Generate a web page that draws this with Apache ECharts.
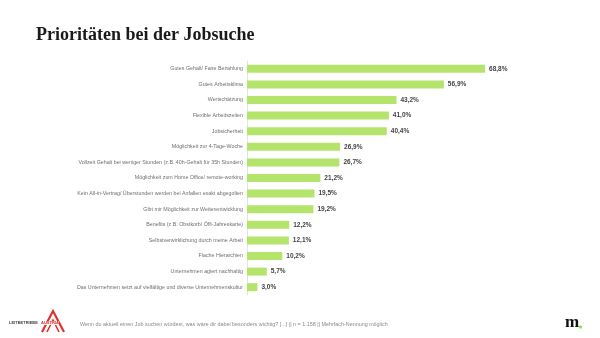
<!DOCTYPE html>
<html>
<head>
<meta charset="utf-8">
<script src="https://cdn.jsdelivr.net/npm/echarts@6/dist/echarts.min.js"></script>
<style>
  html, body { margin: 0; padding: 0; background: #fff; }
  #chart { width: 600px; height: 338px; }
</style>
</head>
<body>
<div id="chart"></div>
<script>
// Survey answers, top to bottom
const categories = [
  "Gutes Gehalt/ Faire Bezahlung",
  "Gutes Arbeitsklima",
  "Wertschätzung",
  "Flexible Arbeitszeiten",
  "Jobsicherheit",
  "Möglichkeit zur 4-Tage-Woche",
  "Vollzeit Gehalt bei weniger Stunden (z.B. 40h-Gehalt für 35h Stunden)",
  "Möglichkeit zum Home Office/ remote-working",
  "Kein All-in-Vertrag/ Überstunden werden bei Anfallen exakt abgegolten",
  "Gibt mir Möglichkeit zur Weiterentwicklung",
  "Benefits (z.B. Obstkorb/ Öffi-Jahreskarte)",
  "Selbstverwirklichung durch meine Arbeit",
  "Flache Hierarchien",
  "Unternehmen agiert nachhaltig",
  "Das Unternehmen setzt auf vielfältige und diverse Unternehmenskultur"
];
const shares = [68.8, 56.9, 43.2, 41.0, 40.4, 26.9, 26.7, 21.2, 19.5, 19.2, 12.2, 12.1, 10.2, 5.7, 3.0];

const titleText = "Prioritäten bei der Jobsuche";
const footnote = "Wenn du aktuell einen Job suchen würdest, was wäre dir dabei besonders wichtig? [...] || n = 1.158 || Mehrfach-Nennung möglich";

const chart = echarts.init(document.getElementById('chart'), null, { renderer: 'canvas' });

chart.setOption({
  animation: false,
  backgroundColor: '#ffffff',
  title: {
    text: titleText,
    left: 31,
    top: 21,
    textStyle: {
      fontFamily: 'Liberation Serif, DejaVu Serif, serif',
      fontWeight: 'bold',
      fontSize: 18,
      color: '#1a1a1a'
    }
  },
  grid: { left: 247, right: 7, top: 61, bottom: 43, containLabel: false },
  xAxis: {
    type: 'value',
    min: 0,
    max: 100,
    show: false
  },
  yAxis: {
    type: 'category',
    data: categories,
    inverse: true,
    axisLine: { show: true, lineStyle: { color: '#e3e3e3', width: 1 } },
    axisTick: { show: false },
    axisLabel: {
      margin: 4,
      fontFamily: 'Liberation Sans, Arial, sans-serif',
      fontSize: 5.3,
      color: '#6e6e6e'
    }
  },
  series: [{
    type: 'bar',
    data: shares,
    barWidth: 8,
    itemStyle: { color: '#b4e46b' },
    label: {
      show: true,
      position: 'right',
      distance: 4,
      formatter: p => p.value.toFixed(1).replace('.', ',') + '%',
      fontFamily: 'Liberation Sans, Arial, sans-serif',
      fontWeight: 'bold',
      fontSize: 6.5,
      color: '#444444'
    }
  }],
  graphic: [
    // footnote with question text
    {
      type: 'text',
      left: 80,
      top: 322,
      style: {
        text: footnote,
        font: '5.4px "Liberation Sans", Arial, sans-serif',
        fill: '#8a8a8a'
      }
    },
    // Leitbetriebe Austria mark
    {
      type: 'polyline',
      shape: { points: [[42, 332], [53, 311], [64, 332]] },
      style: { stroke: '#e0312b', lineWidth: 2.2, fill: null }
    },
    {
      type: 'polyline',
      shape: { points: [[47, 332], [53, 320], [59, 332]] },
      style: { stroke: '#e0312b', lineWidth: 1.6, fill: null }
    },
    {
      type: 'text',
      left: 9,
      top: 321,
      style: {
        text: 'LEITBETRIEBE',
        font: 'bold 4px "Liberation Sans", Arial, sans-serif',
        fill: '#444444'
      }
    },
    {
      type: 'text',
      left: 41,
      top: 321,
      style: {
        text: 'AUSTRIA',
        font: 'bold 4px "Liberation Sans", Arial, sans-serif',
        fill: '#e0312b',
        backgroundColor: 'rgba(255,255,255,0.85)'
      }
    },
    // publisher mark
    {
      type: 'text',
      left: 565,
      top: 314,
      style: {
        text: 'm',
        font: 'bold 17px "Liberation Serif", "DejaVu Serif", serif',
        fill: '#111111'
      }
    },
    {
      type: 'circle',
      shape: { cx: 580.5, cy: 327, r: 1.7 },
      style: { fill: '#9fdc55' }
    }
  ]
});
</script>
</body>
</html>
